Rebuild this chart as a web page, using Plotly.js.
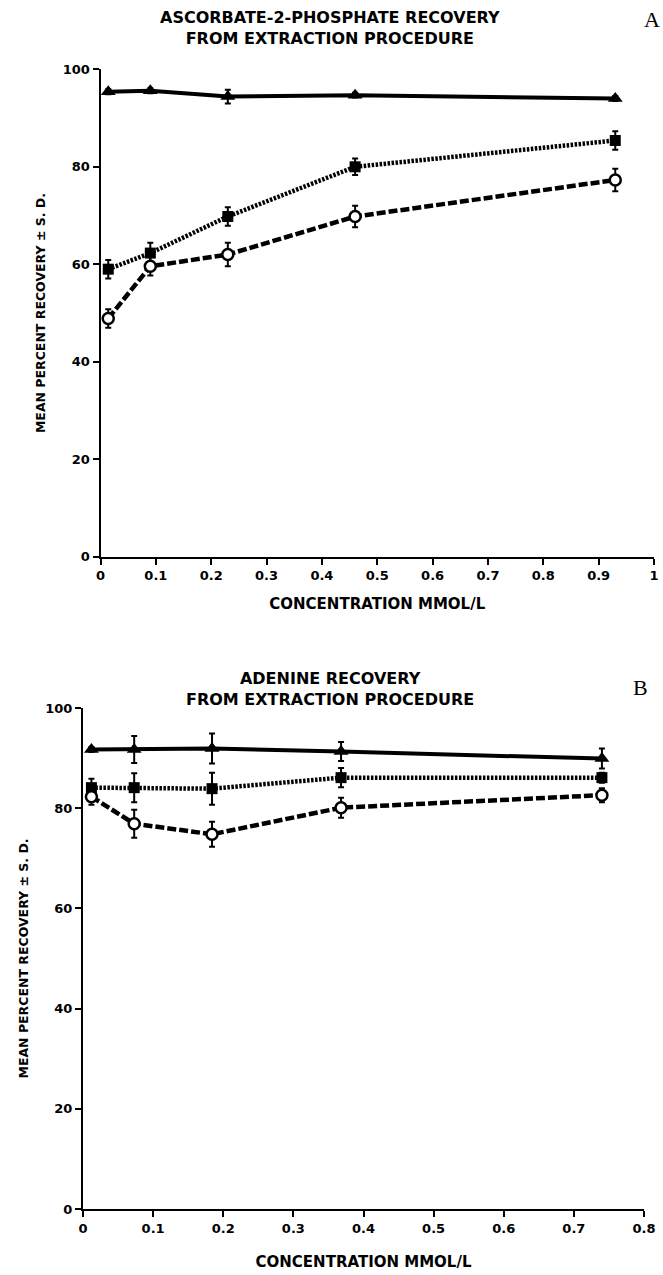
<!DOCTYPE html>
<html>
<head>
<meta charset="utf-8">
<script src="https://cdn.plot.ly/plotly-3.0.1.min.js"></script>
<style>html,body{margin:0;padding:0;background:#fff;}#chart{width:663px;height:1275px;}</style>
</head>
<body>
<div id="chart"></div>
<script>
// ---- Data (panel A: ascorbate-2-phosphate) ----
const concA = [0.014, 0.09, 0.23, 0.46, 0.93];
const triA = [95.4, 95.6, 94.4, 94.7, 94.0];
const triAsd = [0.5, 0.5, 1.4, 0.5, 0.5];
const sqA = [59.0, 62.3, 69.8, 80.0, 85.4];
const sqAsd = [1.9, 2.1, 1.9, 1.7, 1.9];
const cirA = [48.9, 59.6, 62.0, 69.8, 77.3];
const cirAsd = [1.9, 1.9, 2.4, 2.2, 2.3];

// ---- Data (panel B: adenine) ----
const concB = [0.012, 0.073, 0.184, 0.368, 0.74];
const triB = [91.7, 91.7, 91.9, 91.3, 89.9];
const triBsd = [0.5, 2.7, 3.0, 1.9, 2.0];
const sqB = [84.1, 84.1, 83.9, 86.1, 86.1];
const sqBsd = [1.8, 2.9, 3.2, 1.9, 1.0];
const cirB = [82.3, 76.9, 74.8, 80.1, 82.6];
const cirBsd = [1.6, 2.8, 2.5, 2.0, 1.4];

const xTicksA = [0, 0.1, 0.2, 0.3, 0.4, 0.5, 0.6, 0.7, 0.8, 0.9, 1];
const xTickTextA = ['0', '0.1', '0.2', '0.3', '0.4', '0.5', '0.6', '0.7', '0.8', '0.9', '1'];
const xTicksB = [0, 0.1, 0.2, 0.3, 0.4, 0.5, 0.6, 0.7, 0.8];
const xTickTextB = ['0', '0.1', '0.2', '0.3', '0.4', '0.5', '0.6', '0.7', '0.8'];
const yTicks = [0, 20, 40, 60, 80, 100];

const titleA = 'ASCORBATE-2-PHOSPHATE RECOVERY<br>FROM EXTRACTION PROCEDURE';
const titleB = 'ADENINE RECOVERY<br>FROM EXTRACTION PROCEDURE';
const xTitle = 'CONCENTRATION MMOL/L';
const yTitle = 'MEAN PERCENT RECOVERY ± S. D.';

const FONT = 'DejaVu Sans, Liberation Sans, sans-serif';
const H = 1275, W = 663;

function err(arr) {
  return {type: 'data', array: arr, visible: true, color: '#000', thickness: 2, width: 3};
}
function series(x, y, sd, kind, xa, ya) {
  const t = {x: x, y: y, error_y: err(sd), type: 'scatter', mode: 'lines+markers',
    xaxis: xa, yaxis: ya, cliponaxis: false, showlegend: false, hoverinfo: 'skip'};
  if (kind === 'tri') {
    t.line = {color: '#000', width: 4, dash: 'solid'};
    t.marker = {symbol: 'triangle-up', size: 13, color: '#000'};
  } else if (kind === 'sq') {
    t.line = {color: '#000', width: 4.5, dash: '2.5px,1.5px'};
    t.marker = {symbol: 'square', size: 11, color: '#000'};
  } else {
    t.line = {color: '#000', width: 4.5, dash: '9px,3px'};
    t.marker = {symbol: 'circle', size: 11, color: '#fff', line: {color: '#000', width: 2.5}};
  }
  return t;
}

const data = [
  series(concA, triA, triAsd, 'tri', 'x', 'y'),
  series(concA, sqA, sqAsd, 'sq', 'x', 'y'),
  series(concA, cirA, cirAsd, 'cir', 'x', 'y'),
  series(concB, triB, triBsd, 'tri', 'x2', 'y2'),
  series(concB, sqB, sqBsd, 'sq', 'x2', 'y2'),
  series(concB, cirB, cirBsd, 'cir', 'x2', 'y2')
];

const tickFont = {family: FONT, size: 13, color: '#000', weight: 'bold'};
function xaxis(dom, range, tv, tt, anchor, standoff) {
  return {domain: dom, range: range, tickvals: tv, ticktext: tt, anchor: anchor,
    showline: true, linecolor: '#000', linewidth: 2, ticks: 'outside', ticklen: 6, tickwidth: 2,
    tickcolor: '#000', showgrid: false, zeroline: false, tickfont: tickFont, automargin: false,
    ticklabeloverflow: 'allow',
    title: {text: xTitle, font: {family: FONT, size: 15, color: '#000', weight: 'bold'}, standoff: standoff}};
}
function yaxis(dom, anchor) {
  return {domain: dom, range: [0, 100], tickvals: yTicks, anchor: anchor,
    showline: true, linecolor: '#000', linewidth: 2, ticks: 'outside', ticklen: 6, tickwidth: 2,
    tickcolor: '#000', showgrid: false, zeroline: false, tickfont: tickFont, automargin: false,
    ticklabeloverflow: 'allow',
    title: {text: yTitle, font: {family: FONT, size: 12.5, color: '#000', weight: 'bold'}, standoff: 14}};
}
function py(px) { return 1 - px / H; }

const layout = {
  width: W, height: H,
  margin: {l: 0, r: 0, t: 0, b: 0},
  paper_bgcolor: '#fff', plot_bgcolor: '#fff',
  xaxis: xaxis([100.5 / W, 654 / W], [0, 1], xTicksA, xTickTextA, 'y', 16),
  yaxis: yaxis([py(556.8), py(69.3)], 'x'),
  xaxis2: xaxis([83 / W, 644 / W], [0, 0.8], xTicksB, xTickTextB, 'y2', 22),
  yaxis2: yaxis([py(1209), py(708)], 'x2'),
  annotations: [
    {text: titleA, xref: 'paper', yref: 'paper', x: 330 / W, y: py(28), xanchor: 'center', yanchor: 'middle',
     showarrow: false, font: {family: FONT, size: 16, color: '#000', weight: 'bold'}},
    {text: 'A', xref: 'paper', yref: 'paper', x: 652 / W, y: py(20), xanchor: 'center', yanchor: 'middle',
     showarrow: false, font: {family: 'Liberation Serif, serif', size: 22, color: '#000'}},
    {text: titleB, xref: 'paper', yref: 'paper', x: 330 / W, y: py(689), xanchor: 'center', yanchor: 'middle',
     showarrow: false, font: {family: FONT, size: 16, color: '#000', weight: 'bold'}},
    {text: 'B', xref: 'paper', yref: 'paper', x: 640 / W, y: py(687), xanchor: 'center', yanchor: 'middle',
     showarrow: false, font: {family: 'Liberation Serif, serif', size: 22, color: '#000'}}
  ]
};

Plotly.newPlot('chart', data, layout, {displayModeBar: false, staticPlot: true});
</script>
</body>
</html>
